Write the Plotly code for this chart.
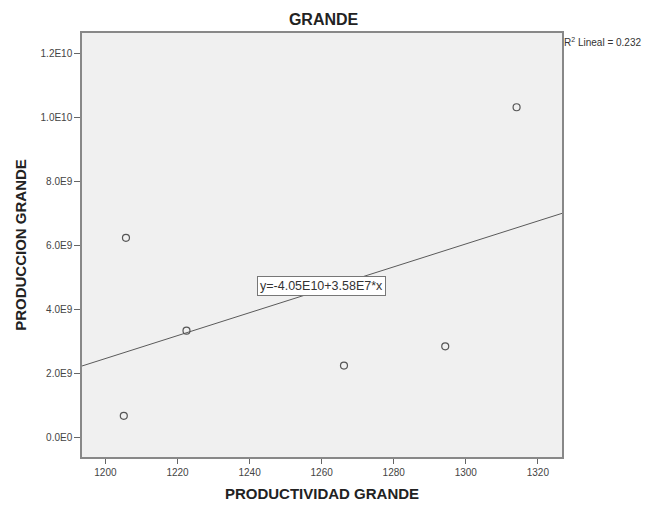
import plotly.graph_objects as go

# Data
productividad = [1205.1, 1205.7, 1222.5, 1266.2, 1294.3, 1314.1]
produccion = [0.67e9, 6.23e9, 3.33e9, 2.24e9, 2.84e9, 10.31e9]

intercept = -4.05e10
slope = 3.58e7
r2 = 0.232

x_range = [1193.5, 1326.7]
y_range = [-0.616e9, 12.63e9]

y_tickvals = [0, 2e9, 4e9, 6e9, 8e9, 1e10, 1.2e10]
y_ticktext = ["0.0E0", "2.0E9", "4.0E9", "6.0E9", "8.0E9", "1.0E10", "1.2E10"]
x_tickvals = [1200, 1220, 1240, 1260, 1280, 1300, 1320]

FONT = "Liberation Sans, Arial, sans-serif"

fig = go.Figure()

line_x = x_range
line_y = [intercept + slope * v for v in line_x]
fig.add_trace(go.Scatter(x=line_x, y=line_y, mode="lines",
                         line=dict(color="#5a5a5a", width=1), hoverinfo="skip",
                         showlegend=False, cliponaxis=True))

fig.add_trace(go.Scatter(x=productividad, y=produccion, mode="markers",
                         marker=dict(symbol="circle-open", size=7,
                                     color="#555555", line=dict(width=1.2, color="#555555")),
                         showlegend=False))

fig.add_annotation(x=1260.0, y=4.73e9, xref="x", yref="y",
                   text="y=-4.05E10+3.58E7*x", showarrow=False,
                   font=dict(family=FONT, size=12.5, color="#333333"),
                   bgcolor="#ffffff", bordercolor="#777777", borderwidth=1, borderpad=2)

fig.add_annotation(x=1.0, y=1.0, xref="paper", yref="paper", xanchor="left", yanchor="top",
                   xshift=0, yshift=-1,
                   text=f"R<sup>2</sup> Lineal = {r2:.3f}", showarrow=False,
                   font=dict(family=FONT, size=10, color="#333333"))

fig.update_layout(
    width=651, height=506,
    margin=dict(l=82, r=89, t=33, b=49),
    paper_bgcolor="#ffffff",
    plot_bgcolor="#f0f0f0",
    title=dict(text="<b>GRANDE</b>", x=0.497, xanchor="center", y=0.962, yanchor="middle",
               font=dict(family=FONT, size=16, color="#222222")),
    font=dict(family=FONT, color="#333333"),
    xaxis=dict(range=x_range, tickvals=x_tickvals, ticks="outside", ticklen=5,
               tickcolor="#666666", showgrid=False, zeroline=False, automargin=False,
               showline=True, linecolor="#888888", linewidth=1.5, mirror=True,
               tickfont=dict(family=FONT, size=10, color="#444444"),
               title=dict(text="<b>PRODUCTIVIDAD GRANDE</b>", standoff=12,
                          font=dict(family=FONT, size=15, color="#222222"))),
    yaxis=dict(range=y_range, tickvals=y_tickvals, ticktext=y_ticktext, ticks="outside",
               ticklen=6, tickcolor="#666666", showgrid=False, zeroline=False, automargin=False,
               showline=True, linecolor="#888888", linewidth=1.5, mirror=True,
               tickfont=dict(family=FONT, size=10, color="#444444"),
               title=dict(text="<b>PRODUCCION GRANDE</b>", standoff=10,
                          font=dict(family=FONT, size=15, color="#222222"))),
)

fig.write_html("out.html")
